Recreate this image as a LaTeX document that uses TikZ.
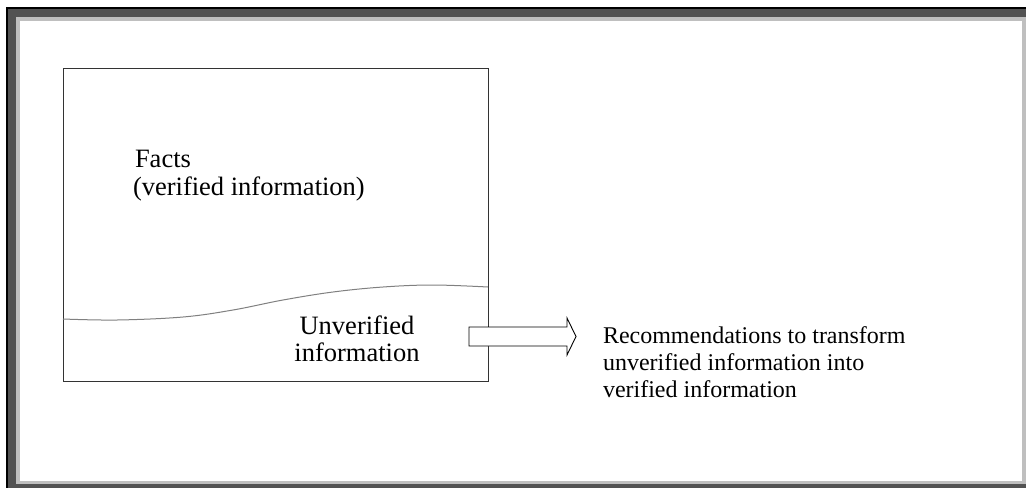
\documentclass[tikz,border=0pt]{standalone}
\usepackage{fontspec}
\setmainfont{Liberation Serif}
\usetikzlibrary{calc}
\begin{document}
\begin{tikzpicture}[x=1pt,y=-1pt,
  txt/.style={inner sep=0pt,outer sep=0pt,font=\fontsize{26.5}{28}\selectfont},
  rectxt/.style={inner sep=0pt,outer sep=0pt,anchor=base west,font=\fontsize{24}{27}\selectfont},
  lbl/.style={txt,anchor=base west},
  clbl/.style={txt,anchor=base},
  boxline/.style={draw=black!80,line width=1pt},
  waveline/.style={draw=black!50,line width=1pt},
  arrowbody/.style={draw=black,fill=white,line width=0.9pt,line join=miter}]
\useasboundingbox (0,0) rectangle (1026,488);
% page border: dark outer band, light inner band, white field
\fill[black!68] (7,7) rectangle (1026,488);
\fill[black] (6,7) rectangle (8,488);
\fill[black] (6,7) rectangle (1026,9);
\fill[black!25] (16,17) rectangle (1026,484);
\fill[white] (20,21) rectangle (1022,481);
% information box
\node[boxline,fill=white,inner sep=0pt,minimum width=425pt,minimum height=313pt,anchor=north west] (box) at (63,68) {};
% boundary between verified and unverified information
\draw[waveline] plot[smooth,tension=0.6] coordinates {(63,319) (117,320) (183,317) (233,310) (283,300) (333,292) (383,287) (433,285) (488,287)};
% texts inside the box
\node[lbl] (facts) at (135,167) {Facts};
\node[lbl] (factsb) at (133,195) {(verified information)};
\node[clbl] (unv) at (357,334) {Unverified};
\node[clbl] (unvb) at (357,361) {information};
% block arrow
\coordinate (tail) at (469,336.5);
\coordinate (tip) at (576,336.5);
\draw[arrowbody] ($(tail)+(0,-9.5)$) -- (567,327) -- (567,318) -- (tip) -- (567,355) -- (567,346) -- ($(tail)+(0,9.5)$) -- cycle;
% recommendations
\node[rectxt] (rec1) at (603,343) {Recommendations to transform};
\node[rectxt] (rec2) at (603,370) {unverified information into};
\node[rectxt] (rec3) at (603,397) {verified information};
\end{tikzpicture}
\end{document}
